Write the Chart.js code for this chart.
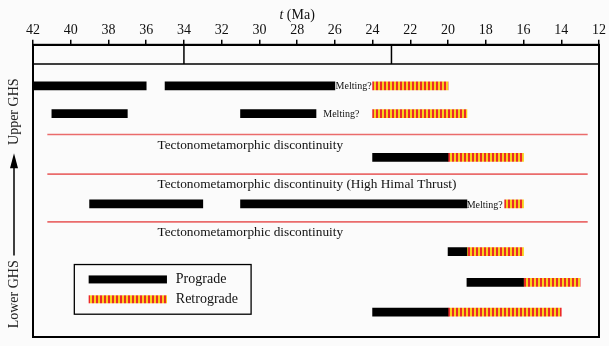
<!DOCTYPE html>
<html>
<head>
<meta charset="utf-8">
<script src="https://cdn.jsdelivr.net/npm/chart.js@4.4.0/dist/chart.umd.min.js"></script>
<style>
  body { margin: 0; background: #fbfbfb; }
  canvas { display: block; }
</style>
</head>
<body>
<canvas id="timeline" width="609" height="346"></canvas>
<script>
// data (ages in Ma)
const progradeRow = [0, 0, 1, 1, 2, 3, 3, 4, 5, 6];
const progradeStart = [42, 35, 41, 31, 24, 39, 31, 20, 19, 24];
const progradeEnd = [36, 26, 37, 27, 20, 33, 19, 19, 16, 20];

const retroRow = [0, 1, 2, 3, 4, 5, 6];
const retroStart = [24, 24, 20, 17, 19, 16, 20];
const retroEnd = [20, 19, 16, 16, 16, 13, 14];

const meltingRow = [0, 1, 3];
const meltingLabel = 'Melting?';

const boundaryAges = [34, 23];
const discontinuityLabels = [
    'Tectonometamorphic discontinuity',
    'Tectonometamorphic discontinuity (High Himal Thrust)',
    'Tectonometamorphic discontinuity'
];
const legendLabels = ['Prograde', 'Retrograde'];

// layout (vertical levels on the y scale, 0 = top)
const rowLevel = [2.81, 4.71, 7.70, 10.89, 14.16, 16.26, 18.30];
const meltingRight = [24.05, 24.7, 17.1];
const discLineLevel = [6.14, 8.85, 12.12];
const discTextLevel = [6.88, 9.53, 12.86];
const serif = "'Liberation Serif', 'DejaVu Serif', serif";

function hatchPattern() {
    const c = document.createElement('canvas');
    c.width = 4;
    c.height = 8;
    const g = c.getContext('2d');
    g.fillStyle = '#f8d01c';
    g.fillRect(0, 0, 4, 8);
    g.fillStyle = '#ec2a27';
    g.fillRect(0, 0, 2, 8);
    return g.createPattern(c, 'repeat');
}

const ctx = document.getElementById('timeline').getContext('2d');
const hatch = hatchPattern();

const decor = {
    id: 'decor',
    beforeDatasetsDraw(chart) {
        const c = chart.ctx;
        const xs = chart.scales.x;
        const ys = chart.scales.y;
        const a = chart.chartArea;
        c.save();
        // timescale strip
        c.strokeStyle = '#000';
        c.lineWidth = 1.5;
        const stripBottom = ys.getPixelForValue(1.31);
        c.beginPath();
        c.moveTo(a.left, stripBottom);
        c.lineTo(a.right, stripBottom);
        boundaryAges.forEach(age => {
            const px = xs.getPixelForValue(age);
            c.moveTo(px, a.top);
            c.lineTo(px, stripBottom);
        });
        c.stroke();

        // discontinuities
        c.strokeStyle = '#ea6b6b';
        c.lineWidth = 1.6;
        discLineLevel.forEach(lv => {
            const py = ys.getPixelForValue(lv);
            c.beginPath();
            c.moveTo(xs.getPixelForValue(41.24), py);
            c.lineTo(xs.getPixelForValue(12.6), py);
            c.stroke();
        });
        c.fillStyle = '#111';
        c.font = '13.3px ' + serif;
        c.textBaseline = 'middle';
        c.textAlign = 'left';
        discontinuityLabels.forEach((t, i) => {
            c.fillText(t, xs.getPixelForValue(35.4), ys.getPixelForValue(discTextLevel[i]));
        });

        // melting labels
        c.font = '10px ' + serif;
        c.textAlign = 'right';
        meltingRow.forEach((r, i) => {
            c.fillText(meltingLabel, xs.getPixelForValue(meltingRight[i]), ys.getPixelForValue(rowLevel[r]) + 1);
        });

        // legend
        const lx0 = xs.getPixelForValue(39.81), lx1 = xs.getPixelForValue(30.44);
        const ly0 = ys.getPixelForValue(15.04), ly1 = ys.getPixelForValue(18.44);
        c.strokeStyle = '#000';
        c.lineWidth = 1.3;
        c.strokeRect(lx0, ly0, lx1 - lx0, ly1 - ly0);
        const bx0 = xs.getPixelForValue(39.05), bx1 = xs.getPixelForValue(34.9);
        [16.06, 17.42].forEach((lv, i) => {
            const py = ys.getPixelForValue(lv);
            c.fillStyle = chart.data.datasets[i].backgroundColor;
            c.fillRect(bx0, py - 4, bx1 - bx0, 8);
            c.fillStyle = '#111';
            c.font = '14px ' + serif;
            c.textAlign = 'left';
            c.fillText(legendLabels[i], xs.getPixelForValue(34.43), py);
        });

        // y-axis annotation
        const ax = 14;
        c.fillStyle = '#222';
        c.font = '14px ' + serif;
        c.textAlign = 'center';
        [[4.58, 'Upper GHS'], [17.08, 'Lower GHS']].forEach(([lv, t]) => {
            c.save();
            c.translate(ax, ys.getPixelForValue(lv));
            c.rotate(-Math.PI / 2);
            c.fillText(t, 0, 0);
            c.restore();
        });
        const tip = ys.getPixelForValue(7.43), tail = ys.getPixelForValue(14.43);
        c.strokeStyle = '#000';
        c.lineWidth = 1.5;
        c.beginPath();
        c.moveTo(ax, tail);
        c.lineTo(ax, tip + 10);
        c.stroke();
        c.fillStyle = '#000';
        c.beginPath();
        c.moveTo(ax, tip);
        c.lineTo(ax - 4, tip + 15);
        c.lineTo(ax + 4, tip + 15);
        c.closePath();
        c.fill();

        // axis title
        const tx = xs.getPixelForValue(28);
        c.fillStyle = '#111';
        c.textAlign = 'left';
        c.font = 'italic 14px ' + serif;
        const w1 = c.measureText('t').width;
        c.font = '14px ' + serif;
        const w2 = c.measureText(' (Ma)').width;
        const sx = tx - (w1 + w2) / 2;
        c.font = 'italic 14px ' + serif;
        c.fillText('t', sx, 15);
        c.font = '14px ' + serif;
        c.fillText(' (Ma)', sx + w1, 15);
        c.restore();
    },
    afterDraw(chart) {
        const c = chart.ctx;
        const a = chart.chartArea;
        c.save();
        c.strokeStyle = '#000';
        c.lineWidth = 2;
        c.strokeRect(a.left, a.top, a.right - a.left, a.bottom - a.top);
        c.restore();
    }
};

new Chart(ctx, {
    type: 'bar',
    data: {
        datasets: [{
            label: 'Prograde',
            data: progradeRow.map((r, i) => ({ x: [progradeStart[i], progradeEnd[i]], y: rowLevel[r] })),
            backgroundColor: '#000'
        }, {
            label: 'Retrograde',
            data: retroRow.map((r, i) => ({ x: [retroStart[i], retroEnd[i]], y: rowLevel[r] })),
            backgroundColor: hatch
        }]
    },
    options: {
        indexAxis: 'y',
        responsive: false,
        animation: false,
        grouped: false,
        barThickness: 8,
        borderWidth: 0,
        layout: { padding: { left: 33, right: 10, top: 21, bottom: 9 } },
        plugins: {
            legend: { display: false },
            tooltip: { enabled: false }
        },
        scales: {
            x: {
                type: 'linear',
                position: 'top',
                reverse: true,
                min: 12,
                max: 42,
                ticks: {
                    stepSize: 2,
                    padding: 1,
                    color: '#111',
                    font: { family: serif, size: 14 }
                },
                grid: {
                    drawOnChartArea: false,
                    color: '#000',
                    lineWidth: 1.5,
                    tickLength: 5
                },
                border: { color: '#000', width: 2 }
            },
            y: {
                type: 'linear',
                display: false,
                reverse: true,
                offset: false,
                min: 0,
                max: 20
            }
        }
    },
    plugins: [decor]
});
</script>
</body>
</html>
